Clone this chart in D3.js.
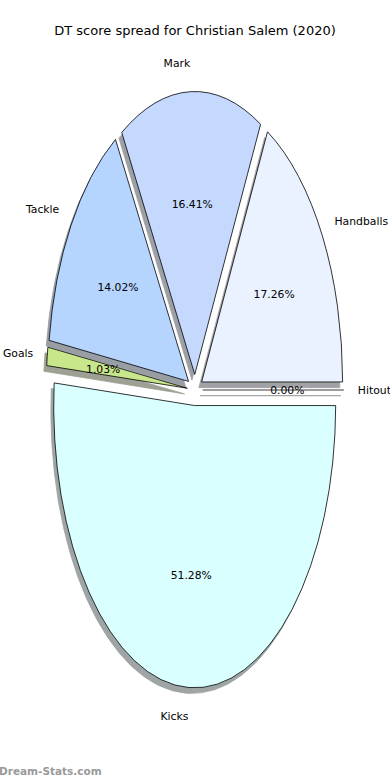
<!DOCTYPE html>
<html><head><meta charset="utf-8">
<script src="https://cdn.jsdelivr.net/npm/d3@7"></script>
<style>html,body{margin:0;padding:0;background:#fff;}svg{display:block;font-family:"DejaVu Sans",sans-serif;}</style>
</head><body>
<svg id="c" width="390" height="780"></svg>
<script>
const categories = ["Handballs", "Mark", "Tackle", "Goals", "Kicks", "Hitout"];
const values = [17.26, 16.41, 14.02, 1.03, 51.28, 0.00];
const colors = ["#eaf1ff", "#c5d9ff", "#b5d5ff", "#c8e68a", "#d9ffff", "#d0d0d0"];
const title = "DT score spread for Christian Salem (2020)";
const watermark = "Dream-Stats.com";

const W = 390, H = 780;
const cx = 195, cy = 390, rx = 141, ry = 283;
const explode = 0.055, labelDist = 1.1, pctDist = 0.6;

const svg = d3.select("#c");
const total = d3.sum(values);
const angle = d3.scaleLinear().domain([0, total]).range([0, 2 * Math.PI]);
let cum = 0;
const wedges = values.map((v, i) => {
  const t0 = angle(cum); cum += v; const t1 = angle(cum);
  const tm = (t0 + t1) / 2;
  const ex = cx + explode * rx * Math.cos(tm);
  const ey = cy - explode * ry * Math.sin(tm);
  return {i, v, t0, t1, tm, ex, ey};
});
const arc = d3.arc().innerRadius(0).outerRadius(1)
  .startAngle(d => Math.PI / 2 - d.t0).endAngle(d => Math.PI / 2 - d.t1);

function darker(c) { const r = d3.rgb(c); return d3.rgb(r.r * 0.3, r.g * 0.3, r.b * 0.3).toString(); }

// shadows
const sdx = -0.02 * rx, sdy = 0.02 * ry;
svg.append("g").selectAll("path").data(wedges).join("path")
  .attr("transform", d => `translate(${d.ex + sdx},${d.ey + sdy}) scale(${rx},${ry})`)
  .attr("d", arc)
  .attr("fill", d => darker(colors[d.i]))
  .attr("stroke", d => darker(colors[d.i]))
  .attr("stroke-width", 0.8)
  .attr("vector-effect", "non-scaling-stroke")
  .attr("opacity", 0.5);

// wedges
svg.append("g").selectAll("path").data(wedges).join("path")
  .attr("transform", d => `translate(${d.ex},${d.ey}) scale(${rx},${ry})`)
  .attr("d", arc)
  .attr("fill", d => colors[d.i])
  .attr("stroke", d => d.v === 0 ? "#666" : "#000")
  .attr("stroke-width", 0.8)
  .attr("vector-effect", "non-scaling-stroke");

// labels
svg.append("g").selectAll("text").data(wedges).join("text")
  .attr("x", d => d.ex + labelDist * rx * Math.cos(d.tm))
  .attr("y", d => d.ey - labelDist * ry * Math.sin(d.tm))
  .attr("dy", "0.35em")
  .attr("text-anchor", d => Math.cos(d.tm) > 0 ? "start" : "end")
  .attr("font-size", 10.8).attr("fill", "#000")
  .text(d => categories[d.i]);

// pct
svg.append("g").selectAll("text").data(wedges).join("text")
  .attr("x", d => d.ex + pctDist * rx * Math.cos(d.tm))
  .attr("y", d => d.ey - pctDist * ry * Math.sin(d.tm))
  .attr("dy", "0.35em")
  .attr("text-anchor", "middle")
  .attr("font-size", 10.8).attr("fill", "#000")
  .text(d => d3.format(".2f")(d.v / total * 100) + "%");

svg.append("text").attr("x", W / 2).attr("y", 30).attr("dy", "0.35em")
  .attr("text-anchor", "middle").attr("font-size", 13).attr("fill", "#000").text(title);

svg.append("text").attr("x", -1).attr("y", 775)
  .attr("font-size", 10.5).attr("font-weight", "bold").attr("fill", "#999").text(watermark);
</script>
</body></html>
